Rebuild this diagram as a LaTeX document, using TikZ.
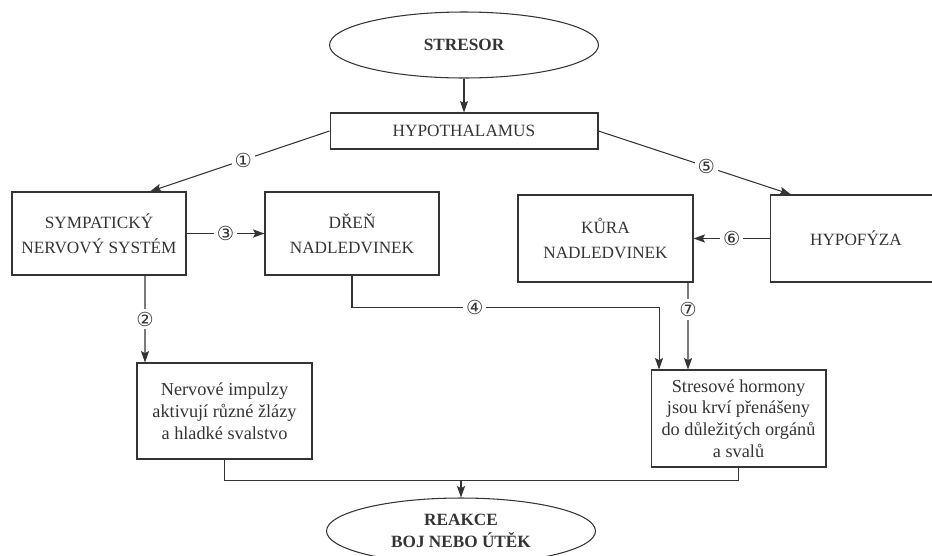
\documentclass[tikz,border=0pt]{standalone}
\usepackage{fontspec}
\setmainfont{Liberation Serif}
\newfontfamily\numfont{DejaVu Sans}
\usetikzlibrary{shapes.geometric,arrows.meta}

\definecolor{ink}{HTML}{343434}

\tikzstyle{oval} = [shape=ellipse,draw,semithick,inner sep=0pt,minimum width=5.38cm,minimum height=1.32cm,align=center,font=\fontsize{9.8}{12.5}\selectfont\bfseries]
\tikzstyle{capsbox} = [draw,semithick,align=center,inner sep=2pt,font=\fontsize{9.8}{14.2}\selectfont]
\tikzstyle{textbox} = [draw,semithick,align=center,inner sep=2pt,font=\fontsize{10.4}{12.4}\selectfont]
\tikzstyle{num} = [fill=white,inner sep=1.6pt,font=\numfont\fontsize{11}{11}\selectfont]
\tikzstyle{arrowdecorate}=[-{Stealth[length=6.5pt,width=4.6pt,inset=1.2pt]},semithick]

\begin{document}
\begin{tikzpicture}[x=0.02cm,y=-0.02cm,color=ink]
    \clip (0,0) rectangle (932,555);
    % ovals
    \node[oval] (stresor) at (464,45) {STRESOR};
    \node[oval] (reakce) at (461,531) {REAKCE\\BOJ NEBO ÚTĚK};
    % boxes
    \foreach \nodename/\x/\y/\w/\h/\look/\content in {
      hypo/464/131/5.36/0.72/capsbox/HYPOTHALAMUS,
      symp/99/233.5/3.48/1.66/capsbox/{SYMPATICKÝ\\NERVOVÝ SYSTÉM},
      dren/352/233.5/3.48/1.66/capsbox/{DŘEŇ\\NADLEDVINEK},
      kura/605.5/238.5/3.5/1.74/capsbox/{KŮRA\\NADLEDVINEK},
      hypof/856/238.5/3.42/1.74/capsbox/HYPOFÝZA,
      nerv/224.5/411/3.5/1.92/textbox/{Nervové impulzy\\aktivují různé žlázy\\a hladké svalstvo},
      stres/738.5/418.5/3.5/1.94/textbox/{Stresové hormony\\jsou krví přenášeny\\do důležitých orgánů\\a svalů}}
    {
        \node[\look, minimum width=\w cm, minimum height=\h cm] (\nodename) at (\x,\y) {\content};
    };
    % arrows
    \draw[arrowdecorate] (stresor) -- (hypo);
    \path
    \foreach \startnode/\sshift/\endnode/\eshift/\weight/\where in {
      hypo.west/0/symp.north/1.02/①/0.48,
      symp.south/0.92/nerv.north/-1.59/②/0.5,
      symp.east/0/dren.west/0/③/0.5,
      hypo.east/0/hypof.north/-1.3/⑤/0.56,
      hypof.west/0/kura.east/0/⑥/0.5,
      kura.south/1.65/stres.north/-1.01/⑦/0.31}
    {
      ([xshift=\sshift cm]\startnode) edge[arrowdecorate] node[num,pos=\where] {\weight} ([xshift=\eshift cm]\endnode)
    };
    \draw[arrowdecorate] (dren.south) -- ++(0,32) -| node[num,pos=0.2] {④} ([xshift=-1.59cm]stres.north);
    % joining lines
    \path (reakce.north |- nerv.south) ++(0,21) coordinate (join);
    \draw[semithick] (nerv.south) |- (join) -| (stres.south);
    \draw[arrowdecorate] (join) -- (reakce.north);
\end{tikzpicture}
\end{document}
